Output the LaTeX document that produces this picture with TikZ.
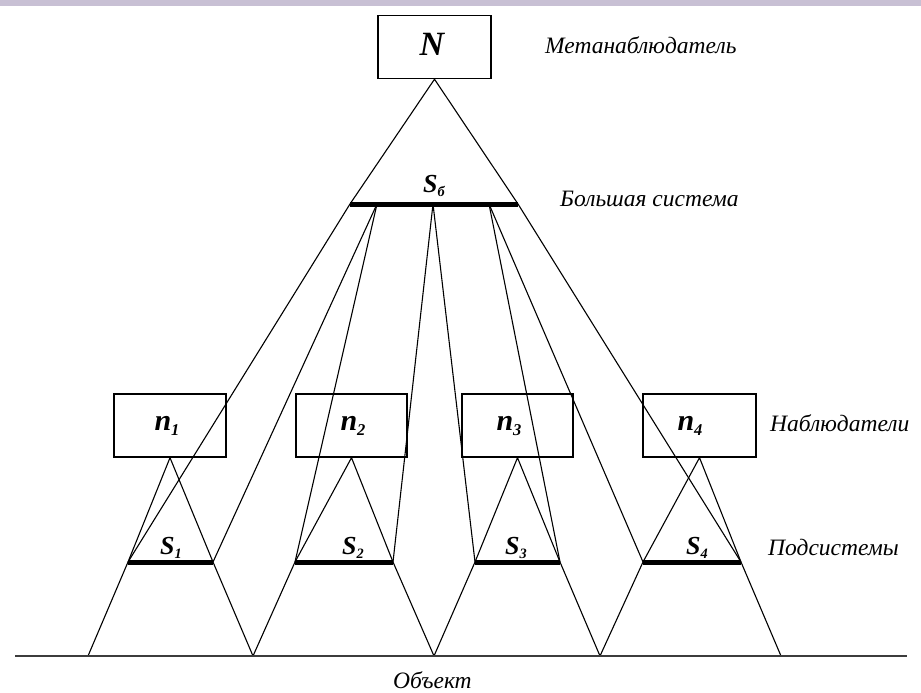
\documentclass[tikz,border=0pt]{standalone}
\usepackage{fontspec}
\setmainfont{Liberation Serif}
\definecolor{band}{RGB}{200,192,212}
\definecolor{objline}{RGB}{60,60,60}
\newcommand{\sublab}[3]{{\fontsize{#3}{#3}\selectfont\bfseries\itshape #1\raisebox{-0.32ex}{\fontsize{0.55\dimexpr #3pt\relax}{10}\selectfont #2}}}
\begin{document}
\begin{tikzpicture}[x=1pt,y=-1pt,
  box/.style={draw, line width=1.4pt, minimum width=#1, minimum height=63pt, inner sep=0pt},
  thinln/.style={line width=1.1pt, line join=round},
  barln/.style={line width=5pt},
  lbl/.style={inner sep=0pt},
  capt/.style={font=\fontsize{23.5}{23.5}\selectfont\itshape, anchor=west, inner sep=0pt}]
\useasboundingbox (0,0) rectangle (921,693);
\fill[band] (0,0) rectangle (921,6);

% boxes
\node[box=113pt] (N) at (434.5,47) {};
\node[box=112pt] (n1) at (170,425.5) {};
\node[box=111pt] (n2) at (351.5,425.5) {};
\node[box=111pt] (n3) at (517.5,425.5) {};
\node[box=113pt] (n4) at (699.5,425.5) {};

% big system bar points
\coordinate (sbA) at (350,204);
\coordinate (sbB) at (377,204);
\coordinate (sbC) at (433,204);
\coordinate (sbD) at (489,204);
\coordinate (sbE) at (518,204);
% subsystem bars
\coordinate (s1a) at (128,562); \coordinate (s1b) at (213,562);
\coordinate (s2a) at (295,562); \coordinate (s2b) at (393,562);
\coordinate (s3a) at (475,562); \coordinate (s3b) at (560,562);
\coordinate (s4a) at (643,562); \coordinate (s4b) at (741,562);
% object points
\coordinate (oL) at (15,656);
\coordinate (o0) at (88,656);
\coordinate (o1) at (253,656);
\coordinate (o2) at (434,656);
\coordinate (o3) at (600,656);
\coordinate (o4) at (781,656);
\coordinate (oR) at (907,656);

% metaobserver triangle
\draw[thinln] (sbA) -- (N.south) -- (sbE);
% big system to subsystems
\draw[thinln] (sbA) -- (s1a);
\draw[thinln] (sbB) -- (s1b);
\draw[thinln] (sbB) -- (s2a);
\draw[thinln] (sbC) -- (s2b);
\draw[thinln] (sbC) -- (s3a);
\draw[thinln] (sbD) -- (s3b);
\draw[thinln] (sbD) -- (s4a);
\draw[thinln] (sbE) -- (s4b);
% observers' views
\draw[thinln] (o0) -- (s1a) -- (n1.south) -- (s1b) -- (o1);
\draw[thinln] (o1) -- (s2a) -- (n2.south) -- (s2b) -- (o2);
\draw[thinln] (o2) -- (s3a) -- (n3.south) -- (s3b) -- (o3);
\draw[thinln] (o3) -- (s4a) -- (n4.south) -- (s4b) -- (o4);

% bars
\draw[barln] (sbA) -- (sbE);
\draw[barln] (s1a) -- (s1b);
\draw[barln] (s2a) -- (s2b);
\draw[barln] (s3a) -- (s3b);
\draw[barln] (s4a) -- (s4b);
% object line
\draw[line width=2.2pt, objline] (oL) -- (oR);

% labels
\node[lbl, font=\fontsize{34}{34}\selectfont\bfseries\itshape] (tN) at (432,44) {N};
\node[lbl] (tn1) at (167,426) {\sublab{n}{1}{30}};
\node[lbl] (tn2) at (353,426) {\sublab{n}{2}{30}};
\node[lbl] (tn3) at (509,426) {\sublab{n}{3}{30}};
\node[lbl] (tn4) at (690,426) {\sublab{n}{4}{30}};
\node[lbl] (tSb) at (434,186) {\sublab{S}{б}{26}};
\node[lbl] (tS1) at (171,548) {\sublab{S}{1}{26}};
\node[lbl] (tS2) at (353,548) {\sublab{S}{2}{26}};
\node[lbl] (tS3) at (516,548) {\sublab{S}{3}{26}};
\node[lbl] (tS4) at (697,548) {\sublab{S}{4}{26}};

\node[capt] (c1) at (545,45) {Метанаблюдатель};
\node[capt] (c2) at (560,199) {Большая система};
\node[capt] (c3) at (770,423) {Наблюдатели};
\node[capt] (c4) at (768,547) {Подсистемы};
\node[capt] (c5) at (393,680) {Объект};
\end{tikzpicture}
\end{document}
